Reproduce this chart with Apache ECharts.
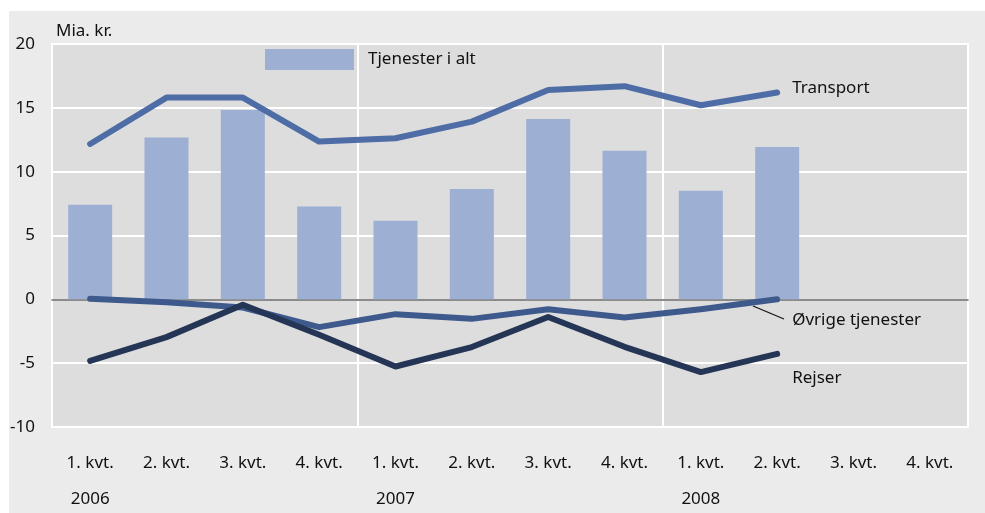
<!DOCTYPE html>
<html>
<head>
<meta charset="utf-8">
<script src="https://cdn.jsdelivr.net/npm/echarts@6/dist/echarts.min.js"></script>
<style>
html,body{margin:0;padding:0;background:#fff;}
#chart{width:985px;height:513px;}
</style>
</head>
<body>
<div id="chart"></div>
<script>
const categories = ['1. kvt.','2. kvt.','3. kvt.','4. kvt.','1. kvt.','2. kvt.','3. kvt.','4. kvt.','1. kvt.','2. kvt.','3. kvt.','4. kvt.'];
const years = ['2006','2007','2008'];
const tjenesterIAlt = [7.4, 12.67, 14.84, 7.27, 6.15, 8.65, 14.13, 11.63, 8.5, 11.94, null, null];
const transport = [12.17, 15.8, 15.8, 12.36, 12.62, 13.92, 16.4, 16.7, 15.2, 16.2, null, null];
const ovrige = [0.04, -0.22, -0.64, -2.18, -1.16, -1.53, -0.77, -1.42, -0.77, 0.0, null, null];
const rejser = [-4.82, -2.96, -0.43, -2.78, -5.26, -3.74, -1.39, -3.72, -5.7, -4.27, null, null];
const yTicks = [-10, -5, 0, 5, 10, 15, 20];

const FONT = '"Noto Sans", sans-serif';
const chart = echarts.init(document.getElementById('chart'));
chart.setOption({
  animation: false,
  backgroundColor: '#ffffff',
  textStyle: { fontFamily: FONT },
  graphic: [
    { type: 'rect', z: -10, silent: true, shape: { x: 9, y: 11, width: 976, height: 502 }, style: { fill: '#ebebeb' } },
    { type: 'line', z: 50, silent: true, shape: { x1: 753, y1: 306, x2: 784, y2: 319 }, style: { stroke: '#111', lineWidth: 1.2 } }
  ],
  title: {
    text: 'Mia. kr.', left: 51, top: 18,
    textStyle: { fontFamily: FONT, fontSize: 17, fontWeight: 'normal', color: '#111' }
  },
  legend: {
    data: ['Tjenester i alt'],
    left: 260, top: 44,
    itemWidth: 89, itemHeight: 21,
    icon: 'rect',
    textStyle: { fontFamily: FONT, fontSize: 17, color: '#111', padding: [0, 0, 0, 9] }
  },
  grid: {
    left: 52, right: 17, top: 44, bottom: 86,
    outerBoundsMode: 'none',
    containLabel: false,
    show: true, backgroundColor: '#dddddd', borderColor: '#ffffff', borderWidth: 2
  },
  xAxis: {
    type: 'category',
    data: categories,
    boundaryGap: true,
    axisLine: { show: true, onZero: true, lineStyle: { color: '#666666', width: 1.5 } },
    axisTick: { show: false },
    splitLine: {
      show: true,
      interval: function (index) { return index === 4 || index === 8; },
      lineStyle: { color: '#ffffff', width: 2 }
    },
    axisLabel: {
      interval: 0,
      margin: 18,
      fontFamily: FONT, fontSize: 17, color: '#111', lineHeight: 36,
      formatter: function (value, index) {
        return index % 4 === 0 ? value + '\n' + years[index / 4] : value;
      }
    }
  },
  yAxis: {
    type: 'value',
    min: yTicks[0], max: yTicks[yTicks.length - 1], interval: 5,
    axisLine: { show: false },
    axisTick: { show: false },
    splitLine: { show: true, lineStyle: { color: '#ffffff', width: 2 } },
    axisLabel: { margin: 17, fontFamily: FONT, fontSize: 17, color: '#111' }
  },
  series: [
    {
      name: 'Tjenester i alt', type: 'bar', data: tjenesterIAlt,
      barWidth: 44, itemStyle: { color: '#9db0d4' }, z: 2
    },
    {
      name: 'Transport', type: 'line', data: transport,
      symbol: 'none', lineStyle: { color: '#4e6ca6', width: 6, cap: 'round', join: 'round' },
      itemStyle: { color: '#4e6ca6' }, z: 3,
      endLabel: { show: true, formatter: '{a}', distance: 15, offset: [0, -4], fontFamily: FONT, fontSize: 17, color: '#111' }
    },
    {
      name: 'Øvrige tjenester', type: 'line', data: ovrige,
      symbol: 'none', lineStyle: { color: '#3e5a8c', width: 6, cap: 'round', join: 'round' },
      itemStyle: { color: '#3e5a8c' }, z: 4,
      endLabel: { show: true, formatter: '{a}', distance: 15, offset: [0, 21], fontFamily: FONT, fontSize: 17, color: '#111' }
    },
    {
      name: 'Rejser', type: 'line', data: rejser,
      symbol: 'none', lineStyle: { color: '#253555', width: 6, cap: 'round', join: 'round' },
      itemStyle: { color: '#253555' }, z: 5,
      endLabel: { show: true, formatter: '{a}', distance: 15, offset: [0, 24], fontFamily: FONT, fontSize: 17, color: '#111' }
    }
  ]
});
</script>
</body>
</html>
